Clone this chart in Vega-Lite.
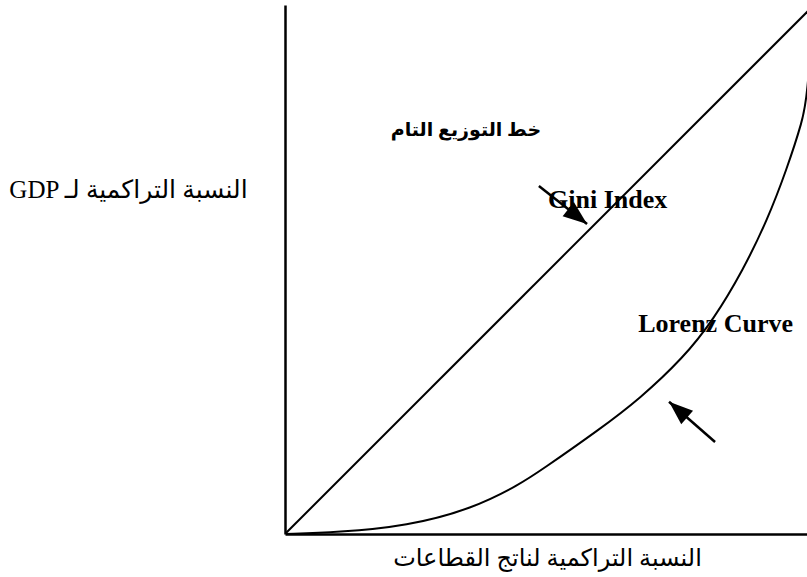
{
  "$schema": "https://vega.github.io/schema/vega-lite/v6.json",
  "width": 522,
  "height": 529,
  "autosize": {"type": "none"},
  "padding": {"left": 285, "top": 5, "right": 0, "bottom": 43},
  "background": "white",
  "config": {"view": {"stroke": null}},
  "datasets": {
    "lines": [
      {"series": "diagonal", "x": 0, "y": 0},
      {"series": "diagonal", "x": 100, "y": 100},
      {"series": "lorenz", "x": 0, "y": 0},
      {"series": "lorenz", "x": 10, "y": 0.3},
      {"series": "lorenz", "x": 23.1, "y": 1.5},
      {"series": "lorenz", "x": 35.5, "y": 4.8},
      {"series": "lorenz", "x": 44.4, "y": 9.4},
      {"series": "lorenz", "x": 48.2, "y": 11.9},
      {"series": "lorenz", "x": 59.5, "y": 19.8},
      {"series": "lorenz", "x": 67.1, "y": 25.6},
      {"series": "lorenz", "x": 75.3, "y": 33.3},
      {"series": "lorenz", "x": 81.0, "y": 40.5},
      {"series": "lorenz", "x": 86.6, "y": 49.9},
      {"series": "lorenz", "x": 91.2, "y": 59.4},
      {"series": "lorenz", "x": 94.8, "y": 68.8},
      {"series": "lorenz", "x": 97.9, "y": 78.3},
      {"series": "lorenz", "x": 98.7, "y": 82.6},
      {"series": "lorenz", "x": 100, "y": 100}
    ],
    "arrows": [
      {"name": "gini", "x": 48.0, "y": 65.8, "x2": 57.1, "y2": 58.6},
      {"name": "lorenz", "x": 81.3, "y": 17.4, "x2": 72.6, "y2": 25.0}
    ],
    "labels": [
      {"text": "Gini Index", "x": 61.0, "y": 61.6},
      {"text": "Lorenz Curve", "x": 81.4, "y": 38.2}
    ],
    "heading": [
      {"text": "خط التوزيع التام", "x": 34.2, "y": 76.4}
    ]
  },
  "layer": [
    {
      "data": {"name": "lines"},
      "mark": {"type": "line", "color": "black", "strokeWidth": 2, "clip": true, "interpolate": "basis"},
      "encoding": {
        "x": {
          "field": "x", "type": "quantitative",
          "scale": {"domain": [0, 98.68], "nice": false, "zero": false},
          "axis": {
            "domain": true, "domainColor": "black", "domainWidth": 2.5,
            "ticks": false, "labels": false, "grid": false,
            "title": "النسبة التراكمية لناتج القطاعات",
            "titleFont": "Liberation Serif, DejaVu Sans", "titleFontSize": 24,
            "titleFontWeight": "normal", "titleColor": "black",
            "titleBaseline": "alphabetic", "titleY": 31, "titleX": 262, "titleAlign": "center"
          }
        },
        "y": {
          "field": "y", "type": "quantitative",
          "scale": {"domain": [0, 100], "nice": false},
          "axis": {
            "domain": true, "domainColor": "black", "domainWidth": 2.5,
            "ticks": false, "labels": false, "grid": false,
            "title": "GDP النسبة التراكمية لـ",
            "titleFont": "Liberation Serif, DejaVu Sans", "titleFontSize": 25,
            "titleFontWeight": "normal", "titleColor": "black",
            "titleAngle": 0, "titleAlign": "center", "titleBaseline": "alphabetic",
            "titleX": -157, "titleY": 192
          }
        },
        "detail": {"field": "series", "type": "nominal"}
      }
    },
    {
      "mark": {"type": "rule", "color": "black", "strokeWidth": 2.5},
      "encoding": {"y": {"datum": 100}}
    },
    {
      "data": {"name": "arrows"},
      "mark": {"type": "rule", "color": "black", "strokeWidth": 2.5},
      "encoding": {
        "x": {"field": "x", "type": "quantitative"},
        "y": {"field": "y", "type": "quantitative"},
        "x2": {"field": "x2"},
        "y2": {"field": "y2"}
      }
    },
    {
      "data": {"name": "arrows"},
      "transform": [{"filter": "datum.name === 'gini'"}],
      "mark": {"type": "point", "shape": "M0,0L0.6,1.6L-0.6,1.6Z", "filled": true, "color": "black", "opacity": 1, "size": 900, "angle": 128.4},
      "encoding": {
        "x": {"field": "x2", "type": "quantitative"},
        "y": {"field": "y2", "type": "quantitative"}
      }
    },
    {
      "data": {"name": "arrows"},
      "transform": [{"filter": "datum.name === 'lorenz'"}],
      "mark": {"type": "point", "shape": "M0,0L0.6,1.6L-0.6,1.6Z", "filled": true, "color": "black", "opacity": 1, "size": 900, "angle": 311},
      "encoding": {
        "x": {"field": "x2", "type": "quantitative"},
        "y": {"field": "y2", "type": "quantitative"}
      }
    },
    {
      "data": {"name": "labels"},
      "mark": {"type": "text", "font": "Liberation Serif", "fontSize": 26, "fontWeight": "bold", "color": "black", "align": "center", "baseline": "alphabetic"},
      "encoding": {
        "x": {"field": "x", "type": "quantitative"},
        "y": {"field": "y", "type": "quantitative"},
        "text": {"field": "text"}
      }
    },
    {
      "data": {"name": "heading"},
      "mark": {"type": "text", "font": "Liberation Serif, DejaVu Sans", "fontSize": 19, "fontWeight": "bold", "color": "black", "align": "center", "baseline": "middle"},
      "encoding": {
        "x": {"field": "x", "type": "quantitative"},
        "y": {"field": "y", "type": "quantitative"},
        "text": {"field": "text"}
      }
    }
  ]
}
